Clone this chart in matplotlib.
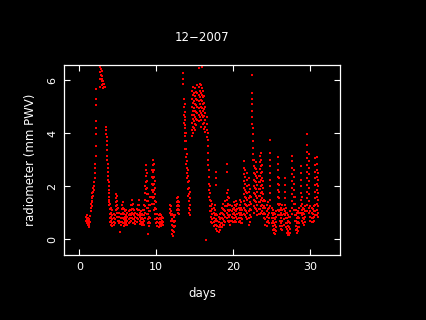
import matplotlib
matplotlib.use("Agg")
import matplotlib.pyplot as plt

# radiometer PWV samples: each day column carries the
# values seen at that time
day = [
    0.90, 1.00, 1.10, 1.20, 1.30, 1.40,
    1.50, 1.60, 1.70, 1.80, 1.90, 2.00, 2.05, 2.10, 2.15, 2.20,
    2.65, 2.70, 2.80, 2.90, 3.00, 3.10, 3.20, 3.28,
    3.50, 3.55, 3.60, 3.65, 3.70, 3.75, 3.80, 3.85, 3.90,
    4.00, 4.15, 4.30, 4.45, 4.60, 4.75, 4.90, 5.05, 5.20, 5.35, 5.50,
    5.65, 5.80, 5.95, 6.10, 6.25, 6.40, 6.55, 6.70, 6.85, 7.00, 7.15,
    7.30, 7.45, 7.60, 7.72, 7.85, 8.00, 8.15, 8.30, 8.45,
    8.60, 8.70, 8.80, 8.95, 9.10, 9.25, 9.40, 9.55, 9.70, 9.85,
    10.00, 10.15, 10.30, 10.45, 10.60, 10.75, 10.90,
    11.80, 11.95, 12.05, 12.20, 12.35, 12.50, 12.65, 12.80, 12.95,
    13.50, 13.60, 13.70, 13.80, 13.90, 14.00, 14.15, 14.30, 14.45,
    14.60, 14.75, 14.90, 15.05, 15.20, 15.35, 15.50, 15.65, 15.80,
    15.95, 16.10, 16.25, 16.40, 16.55, 16.70, 16.85, 17.00,
    17.15, 17.30, 17.45, 17.60, 17.75, 17.95, 18.10, 18.25, 18.40,
    18.55, 18.70, 18.85, 19.00, 19.20, 19.35, 19.50, 19.65, 19.80,
    19.95, 20.10, 20.25, 20.40, 20.55, 20.70, 20.85, 21.00, 21.15,
    21.35, 21.50, 21.65, 21.85, 22.00, 22.15, 22.30, 22.45, 22.55,
    22.70, 22.85, 23.00, 23.15, 23.30, 23.45, 23.60, 23.75, 23.90,
    24.05, 24.20, 24.35, 24.50, 24.65, 24.85, 25.00, 25.15, 25.30,
    25.45, 25.60, 25.80, 25.95, 26.10, 26.25, 26.40, 26.55, 26.70,
    26.85, 27.00, 27.15, 27.30, 27.45, 27.70, 27.85, 28.00, 28.15,
    28.30, 28.45, 28.60, 28.80, 28.95, 29.10, 29.25, 29.40, 29.65,
    29.85, 30.05, 30.20, 30.35, 30.50, 30.70, 30.85, 31.00,
]

pwv = [
    [0.85, 0.70], [0.90, 0.75, 0.62], [0.82, 0.68, 0.55], [0.75, 0.60, 0.50],
    [0.70, 0.58, 0.47], [0.88, 0.66],
    [1.05, 1.20, 1.35], [1.25, 1.40, 1.55], [1.45, 1.60, 1.75],
    [1.65, 1.80, 1.95], [1.85, 2.00, 2.15], [2.30, 2.50], [2.70, 2.85],
    [3.15, 3.50], [3.95, 4.20, 4.45], [5.05, 5.30, 5.65],
    [5.75], [6.05, 6.30, 6.50], [6.20, 6.40, 6.60], [6.00, 6.15, 6.35],
    [5.80, 5.95, 6.05], [5.70, 5.85, 5.95], [5.75, 5.85], [5.72],
    [4.25, 4.10, 3.95], [3.85, 3.70], [3.55, 3.35], [3.15, 3.00],
    [2.85, 2.70], [2.55, 2.40, 2.25], [2.15, 2.00, 1.85],
    [1.75, 1.60, 1.50], [1.40, 1.30],
    [1.35, 1.15, 0.95, 0.80, 0.65], [1.20, 1.00, 0.85, 0.70, 0.55],
    [1.10, 0.90, 0.75, 0.60, 0.50], [0.95, 0.80, 0.65, 0.55],
    [0.90, 0.75, 0.60], [1.70, 1.55, 1.40, 1.25, 1.10],
    [1.65, 1.45, 1.30, 1.15, 1.00, 0.85], [1.20, 1.00, 0.85, 0.70],
    [1.00, 0.85, 0.70, 0.60], [0.95, 0.80, 0.65, 0.55],
    [1.30, 1.15, 0.95, 0.80, 0.65],
    [1.40, 1.20, 1.00, 0.80, 0.60], [1.15, 0.95, 0.75, 0.60, 0.50],
    [1.05, 0.85, 0.70, 0.55], [1.10, 0.90, 0.75, 0.60],
    [1.00, 0.85, 0.70, 0.55], [1.05, 0.90, 0.75, 0.60],
    [1.10, 0.95, 0.80, 0.65], [1.30, 1.10, 0.90, 0.70],
    [1.48, 1.30, 1.15, 1.00, 0.80], [1.35, 1.15, 0.95, 0.75, 0.60],
    [1.10, 0.90, 0.75, 0.60],
    [1.00, 0.85, 0.70, 0.58], [1.15, 0.95, 0.80, 0.65],
    [1.30, 1.10, 0.90, 0.75], [1.48, 1.30, 1.10, 0.90],
    [1.00, 0.85, 0.70, 0.58], [1.05, 0.90, 0.75, 0.62],
    [0.95, 0.80, 0.65, 0.55], [1.10, 0.90, 0.75, 0.60],
    [1.30, 1.10, 0.90, 0.70, 0.55],
    [2.00, 1.75, 1.50, 1.25, 1.00, 0.80], [2.80, 2.60, 2.40, 2.15, 1.90],
    [2.50, 2.20, 1.95, 1.70, 1.45, 1.20, 0.95],
    [1.70, 1.45, 1.20, 0.95, 0.75, 0.60], [1.30, 1.05, 0.85, 0.65, 0.50],
    [1.60, 1.30, 1.05, 0.80, 0.60], [2.60, 2.35, 2.10, 1.85, 1.60, 1.35],
    [3.00, 2.80, 2.55, 2.30, 2.05, 1.80, 1.55],
    [2.85, 2.60, 2.35, 2.10, 1.85, 1.60, 1.35, 1.10],
    [2.20, 1.95, 1.70, 1.45, 1.20, 0.95, 0.75],
    [1.40, 1.15, 0.95, 0.75, 0.60], [0.95, 0.80, 0.65, 0.52],
    [0.90, 0.75, 0.60, 0.48], [0.95, 0.80, 0.65, 0.55],
    [0.90, 0.75, 0.62, 0.50], [0.85, 0.70, 0.58], [0.80, 0.65, 0.55],
    [1.30, 1.15, 1.00], [1.25, 1.05, 0.90, 0.70],
    [0.95, 0.75, 0.55, 0.35, 0.20], [0.90, 0.70, 0.50, 0.30, 0.12],
    [0.85, 0.65, 0.45, 0.28], [0.90, 0.70, 0.50],
    [1.55, 1.40, 1.25, 1.10], [1.60, 1.45, 1.30, 1.15, 1.00],
    [1.40, 1.25, 1.10, 0.95],
    [6.25, 6.05, 5.85], [5.30, 5.00, 4.70, 4.40],
    [5.10, 4.80, 4.50, 4.20, 3.90], [4.60, 4.30, 4.00, 3.70, 3.40],
    [4.00, 3.70, 3.40, 3.10, 2.85], [3.20, 2.95, 2.70, 2.50, 2.30],
    [2.60, 2.40, 2.15, 1.90, 1.65], [2.20, 1.95, 1.70, 1.45, 1.20, 1.00],
    [1.80, 1.55, 1.30, 1.10, 0.90],
    [5.60, 5.30, 5.00, 4.70, 4.40, 4.10, 3.90],
    [5.75, 5.45, 5.15, 4.85, 4.55, 4.25, 4.00],
    [5.50, 5.20, 4.95, 4.70, 4.45, 4.20],
    [5.70, 5.40, 5.10, 4.85, 4.60, 4.35, 4.10],
    [5.55, 5.30, 5.05, 4.80, 4.55, 4.30],
    [5.80, 5.50, 5.25, 5.00, 4.75, 4.50],
    [5.75, 5.45, 5.20, 4.95, 4.70, 4.45],
    [5.85, 5.60, 5.35, 5.10, 4.85, 4.60],
    [5.80, 5.50, 5.25, 5.00, 4.75, 4.50, 4.25],
    [5.70, 5.45, 5.20, 4.95, 4.70],
    [5.60, 5.35, 5.10, 4.85, 4.60, 4.35],
    [5.40, 5.15, 4.90, 4.65, 4.40, 4.15],
    [5.00, 4.75, 4.50, 4.25, 4.05], [4.60, 4.35, 4.10, 3.85],
    [4.00, 3.75, 3.50, 3.25, 3.00, 2.80], [2.60, 2.35, 2.10, 1.85, 1.60],
    [2.00, 1.75, 1.50, 1.25, 1.05],
    [1.45, 1.25, 1.05, 0.85, 0.65], [1.35, 1.15, 0.95, 0.75, 0.60],
    [1.20, 1.00, 0.80, 0.65, 0.50], [1.30, 1.10, 0.90, 0.70, 0.55],
    [2.55, 2.30, 2.05, 0.95, 0.75, 0.55, 0.40], [0.90, 0.70, 0.50, 0.32],
    [0.85, 0.65, 0.45, 0.28], [0.95, 0.75, 0.55, 0.35],
    [1.00, 0.80, 0.60, 0.45],
    [1.20, 1.00, 0.80, 0.60, 0.45], [1.35, 1.15, 0.95, 0.75, 0.55],
    [1.10, 0.90, 0.70, 0.55], [1.45, 1.25, 1.05, 0.85, 0.65],
    [2.85, 2.55, 1.75, 1.50, 1.25, 1.00, 0.80],
    [1.85, 1.60, 1.35, 1.10, 0.90, 0.70], [1.55, 1.30, 1.05, 0.85, 0.65],
    [1.30, 1.10, 0.90, 0.70, 0.55], [1.25, 1.05, 0.85, 0.70],
    [1.15, 0.95, 0.80, 0.65], [1.40, 1.20, 1.00, 0.80, 0.65],
    [1.30, 1.10, 0.90, 0.70], [1.45, 1.25, 1.05, 0.85, 0.65],
    [1.35, 1.15, 0.95, 0.75], [1.20, 1.00, 0.80, 0.65],
    [1.50, 1.30, 1.10, 0.90, 0.70], [1.40, 1.20, 1.00, 0.80, 0.60],
    [1.10, 0.90, 0.75, 0.60],
    [2.95, 2.70, 2.45, 2.20, 1.95, 1.70, 1.45, 1.20, 0.95],
    [2.60, 2.35, 2.10, 1.85, 1.60, 1.35, 1.10, 0.90],
    [1.80, 1.55, 1.30, 1.05, 0.85],
    [2.50, 2.25, 2.00, 1.75, 1.50, 1.25, 1.00, 0.75],
    [2.30, 2.05, 1.80, 1.55, 1.30, 1.05, 0.80, 0.55],
    [1.90, 1.65, 1.40, 1.15, 0.90, 0.65], [1.60, 1.35, 1.10, 0.85],
    [6.20, 5.50, 5.30, 5.10, 4.85, 4.60, 4.35],
    [4.20, 3.95, 3.70, 3.45, 3.20, 3.00],
    [3.00, 2.75, 2.50, 2.25, 2.00, 1.75, 1.50, 1.25, 1.00],
    [2.70, 2.45, 2.20, 1.95, 1.70, 1.45, 1.20],
    [2.90, 2.65, 2.40, 2.15, 1.90, 1.65, 1.40, 1.15],
    [2.55, 2.30, 2.05, 1.80, 1.55, 1.30, 1.05, 0.90],
    [2.40, 2.15, 1.90, 1.65, 1.40, 1.15, 0.95],
    [3.15, 2.90, 2.65, 2.40, 2.15, 1.90, 1.65, 1.40, 1.15, 0.95],
    [3.25, 3.00, 2.75, 2.50, 2.25, 2.00, 1.75, 1.50, 1.25, 1.00],
    [2.80, 2.55, 2.30, 2.05, 1.80, 1.55, 1.30, 1.05],
    [2.20, 1.95, 1.70, 1.45, 1.20, 0.95],
    [1.50, 1.25, 1.00, 0.80], [1.45, 1.20, 0.95, 0.75, 0.55],
    [1.30, 1.05, 0.85, 0.65, 0.50], [1.40, 1.15, 0.90, 0.70],
    [1.20, 1.00, 0.80, 0.60],
    [3.75, 3.25, 3.00, 2.75, 2.50, 2.25, 2.00, 1.75, 1.50, 1.25],
    [1.20, 1.00, 0.80, 0.60], [1.10, 0.90, 0.70, 0.50, 0.35],
    [1.00, 0.80, 0.60, 0.40, 0.25],
    [0.95, 0.75, 0.55, 0.35, 0.22], [1.05, 0.85, 0.65, 0.45, 0.30],
    [3.10, 2.85, 2.60, 2.35, 2.10, 1.85, 1.60, 1.35, 1.10, 0.90],
    [2.30, 2.05, 1.80, 1.55, 1.30, 1.05], [1.35, 1.10, 0.90, 0.70, 0.50],
    [1.20, 1.00, 0.80, 0.60, 0.40], [1.30, 1.10, 0.90, 0.70, 0.50, 0.35],
    [1.15, 0.95, 0.75, 0.55], [2.30, 2.05, 1.80, 1.55, 1.30, 1.05, 0.90],
    [1.20, 1.00, 0.80, 0.60, 0.45], [1.00, 0.80, 0.60, 0.40, 0.25],
    [0.90, 0.70, 0.50, 0.30, 0.18], [0.85, 0.65, 0.45, 0.25, 0.16],
    [1.05, 0.85, 0.60, 0.40, 0.25],
    [3.15, 2.95, 2.70, 2.45, 2.20, 1.95, 1.70, 1.45, 1.20, 0.95],
    [2.60, 2.35, 2.10, 1.85, 1.60, 1.35, 1.10],
    [1.60, 1.35, 1.10, 0.90, 0.70], [1.10, 0.90, 0.70, 0.50, 0.35],
    [1.00, 0.80, 0.60, 0.40, 0.25], [1.05, 0.85, 0.65, 0.45, 0.30],
    [1.20, 1.00, 0.80, 0.60, 0.45],
    [2.75, 2.50, 2.25, 2.00, 1.75, 1.50, 1.25, 1.00],
    [1.60, 1.35, 1.10, 0.90, 0.70], [1.20, 1.00, 0.80, 0.60],
    [1.15, 0.95, 0.75, 0.55], [1.25, 1.05, 0.85, 0.65],
    [3.95, 3.55, 3.30, 3.05, 2.80, 2.55, 2.30, 2.05, 1.80, 1.55, 1.30, 1.05],
    [3.20, 2.95, 2.70, 2.45, 2.20, 1.95, 1.70, 1.45, 1.20, 1.00],
    [1.25, 1.05, 0.85, 0.70], [1.20, 1.00, 0.80, 0.65],
    [1.15, 0.95, 0.80, 0.65], [1.25, 1.05, 0.85, 0.70],
    [3.05, 2.80, 2.55, 2.30, 2.05, 1.80, 1.55, 1.30, 1.05, 0.90],
    [3.10, 2.85, 2.60, 2.35, 2.10, 1.85, 1.60, 1.35, 1.10, 0.90],
    [2.50, 2.25, 2.00, 1.75, 1.50, 1.25, 1.00, 0.85],
]

# isolated samples away from the main streaks
lone_day = [5.30, 8.95, 15.50, 16.00, 16.45]
lone_pwv = [0.29, 0.22, 6.45, 6.50, -0.03]

x_ticks = [0, 10, 20, 30]
y_ticks = [0, 2, 4, 6]

xs = [d for d, vals in zip(day, pwv) for _ in vals] + lone_day
ys = [v for vals in pwv for v in vals] + lone_pwv

fig = plt.figure(figsize=(4.26, 3.20), dpi=100, facecolor="black")
ax = fig.add_axes([0.1502, 0.203, 0.648, 0.595], facecolor="black")

ax.plot(xs, ys, "s", color="#ff0000", markersize=1.9, markeredgewidth=0,
        antialiased=False)

ax.set_xlim(-2.0, 33.9)
ax.set_ylim(-0.59, 6.58)
ax.set_xticks(x_ticks)
ax.set_yticks(y_ticks)

for side in ax.spines.values():
    side.set_color("white")
    side.set_linewidth(0.9)

ax.tick_params(which="both", direction="in", length=4, width=0.8,
               colors="white", top=True, right=True, labelsize=8, pad=5)
for lbl in ax.get_yticklabels():
    lbl.set_rotation(90)
    lbl.set_va("center")

ax.set_title("12\u22122007", color="white", fontsize=8.5, pad=17)
ax.set_xlabel("days", color="white", fontsize=8.5, labelpad=11)
ax.set_ylabel("radiometer (mm PWV)", color="white", fontsize=8.5, labelpad=7)

fig.savefig("out.png", dpi=100, facecolor="black")
